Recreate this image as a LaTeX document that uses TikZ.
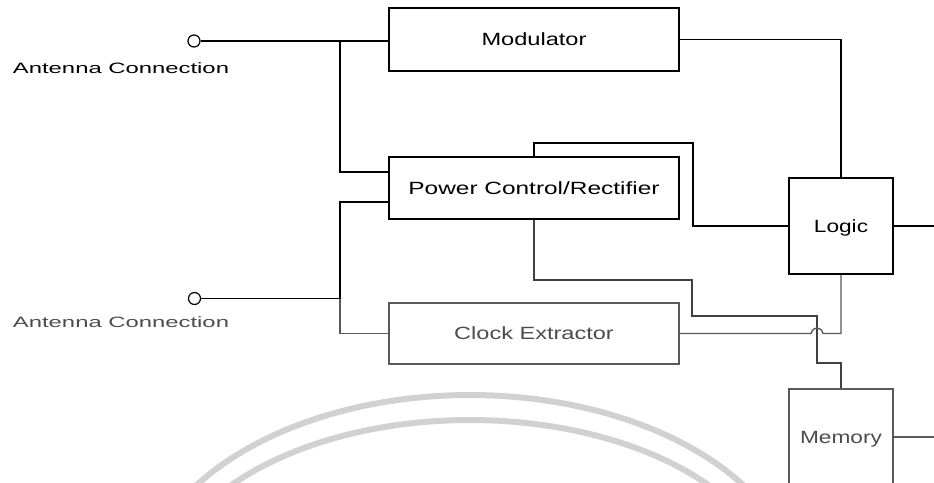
\documentclass[tikz,border=0pt]{standalone}
\usepackage{fontspec}
\setmainfont{Liberation Sans}
\usepackage{graphicx}
\begin{document}
\begin{tikzpicture}[x=1pt,y=-1pt,
  box/.style={draw, rectangle, line width=1.5pt, inner sep=0pt, text height=12.7pt, text depth=0pt, font=\fontsize{17.7}{20}\selectfont},
  wire/.style={line width=1.4pt},
  term/.style={draw, circle, line width=1.2pt, minimum size=12pt, inner sep=0pt, fill=white},
  lbl/.style={inner sep=0pt, text height=10.7pt, text depth=0pt, font=\fontsize{15}{18}\selectfont},
  faded/.style={draw=black!65, text=black!70},
  wmark/.style={draw=black!18, line width=6pt}]
\useasboundingbox (0,0) rectangle (934,482);
\clip (0,0) rectangle (934,482);
% faint background arcs
\draw[wmark] plot[domain=30:150, samples=80] ({470+330*cos(\x)}, {600-205*sin(\x)});
\draw[wmark] plot[domain=30:150, samples=80] ({470+310*cos(\x)}, {600-180*sin(\x)});
% blocks
\node[box, minimum width=290pt, minimum height=63pt] (mod) at (534,39.5) {\scalebox{1.334}[1]{Modulator}};
\node[box, minimum width=290pt, minimum height=62pt] (pwr) at (534,188) {\scalebox{1.38}[1]{Power Control/Rectifier}};
\node[box, minimum width=104pt, minimum height=96pt] (logic) at (841,226) {\scalebox{1.28}[1]{Logic}};
\node[box, faded, minimum width=290pt, minimum height=61pt] (clk) at (534,333.5) {\scalebox{1.33}[1]{Clock Extractor}};
\node[box, faded, minimum width=104pt, minimum height=96pt] (mem) at (841,437) {\scalebox{1.28}[1]{Memory}};
% antenna terminals
\node[term] (ant1) at (194,41) {};
\node[term] (ant2) at (194.5,298.5) {};
\node[lbl] (lab1) at (121,68) {\scalebox{1.59}[1]{Antenna Connection}};
\node[lbl, text=black!70] (lab2) at (121,322.5) {\scalebox{1.59}[1]{Antenna Connection}};
% junctions and bends
\coordinate (j1) at (340,41);
\coordinate (j2) at (340,298.5);
\coordinate (c1) at (693,143);
\coordinate (c2) at (692,280);
\coordinate (c3) at (817,316);
\coordinate (c4) at (817,363);
\coordinate (h1) at (811,333.5);
\coordinate (h2) at (823,333.5);
\coordinate (out1) at (934,226);
\coordinate (out2) at (934,437);
% wires
\draw[wire] (ant1.east) -- (ant1 -| mod.west);
\draw[wire] (j1) |- ([yshift=16pt]pwr.west);
\draw[wire] ([yshift=-14pt]pwr.west) -| (j2);
\draw[wire] (ant2.east) -- (j2);
\draw[wire, black!65] (j2) |- (clk.west);
\draw[wire] (mod.east) -| (logic.north);
\draw[wire] (pwr.north) |- (c1) |- (logic.west);
\draw[wire] (logic.east) -- (out1);
\draw[wire, black!75] (pwr.south) |- (c2) |- (c3) -- (c4) -| (mem.north);
\draw[wire, black!65] (clk.east) -- (h1) .. controls (813,326) and (821,326) .. (h2) -| (logic.south);
\draw[wire, black!65] (mem.east) -- (out2);
\end{tikzpicture}
\end{document}
